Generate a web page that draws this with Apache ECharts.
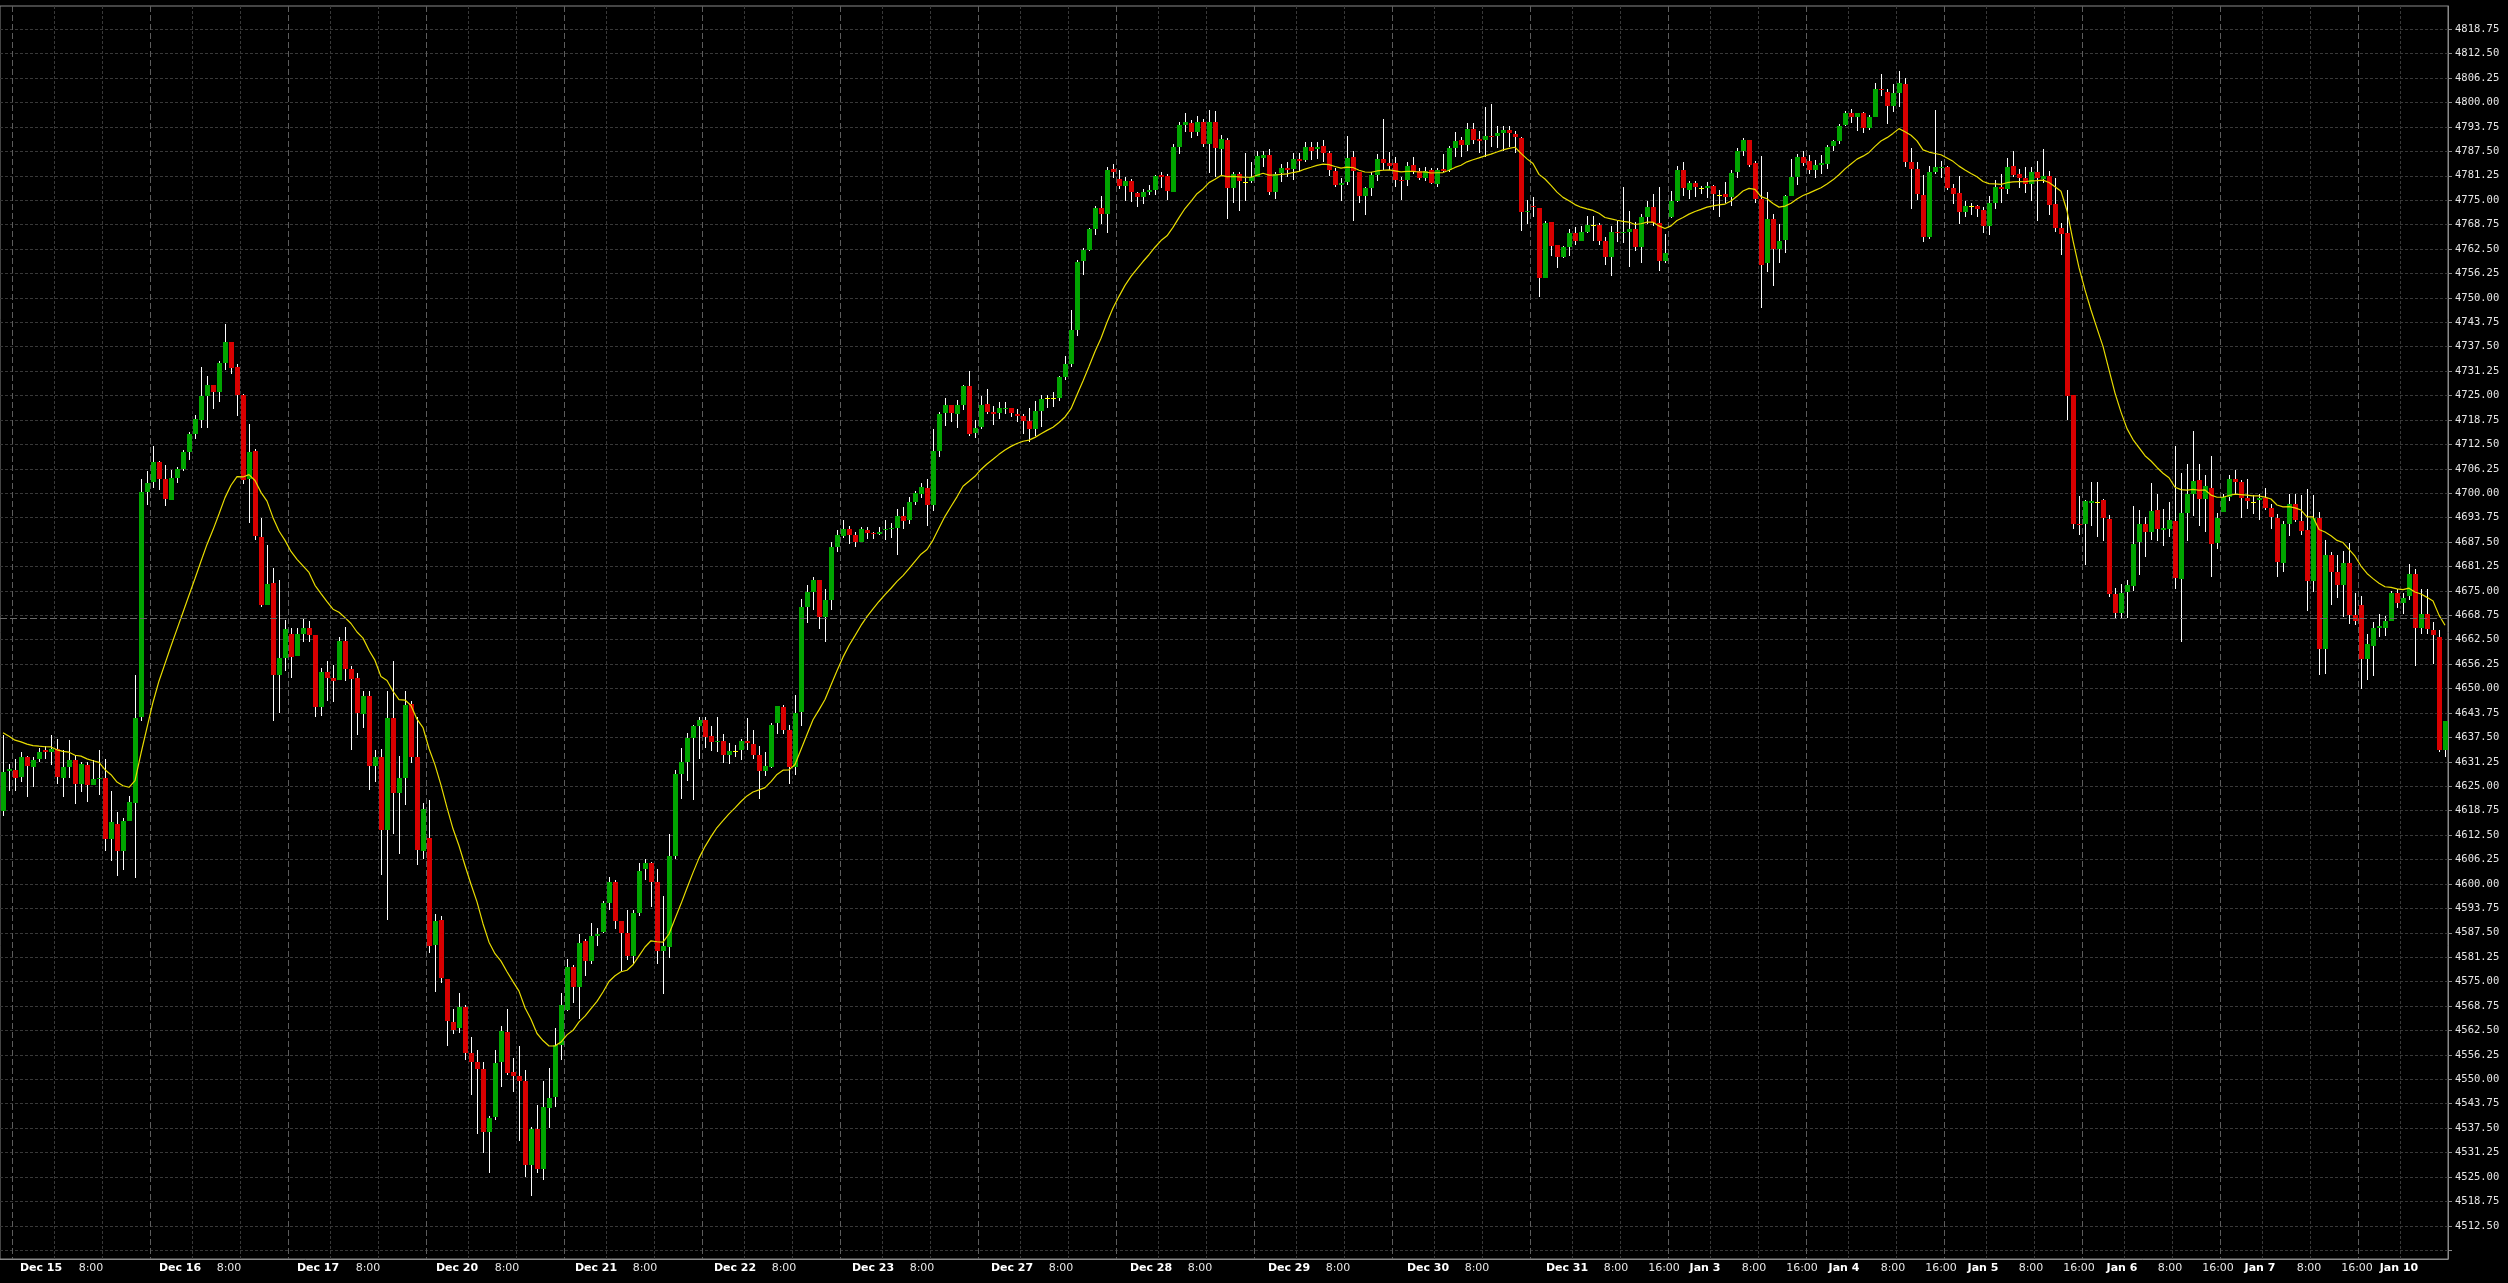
<!DOCTYPE html>
<html><head><meta charset="utf-8">
<script src="https://cdn.jsdelivr.net/npm/echarts@6/dist/echarts.min.js"></script>
<style>html,body{margin:0;padding:0;background:#000;}#chart{width:2508px;height:1283px;}</style>
</head><body><div id="chart"></div>
<script>
// ---- categories (trading days, hourly bars) ----
const days = ['Dec 14','Dec 15','Dec 16','Dec 17','Dec 20','Dec 21','Dec 22','Dec 23','Dec 27','Dec 28','Dec 29','Dec 30','Dec 31','Jan 3','Jan 4','Jan 5','Jan 6','Jan 7','Jan 10'];
const sessionFirstHour = 1, sessionLastHour = 23;
const firstDayFromHour = 22, lastDayToHour = 15;

// ---- OHLC values ----
const open = [
4618.6,4628.9,4629.1,4627.3,4632.4,4630.0,4632.1,4634.2,4633.8,4634.6,
4627.1,4630.0,4631.8,4625.5,4630.5,4625.3,4626.8,4627.0,4611.4,4615.4,
4608.3,4616.1,4620.6,4642.6,4700.2,4702.8,4708.0,4703.7,4698.3,4703.9,
4706.2,4710.5,4715.1,4718.8,4724.8,4727.7,4726.0,4733.3,4738.6,4732.3,
4725.2,4703.6,4710.7,4688.8,4671.3,4676.9,4653.5,4657.9,4663.9,4658.3,
4663.9,4665.6,4663.7,4645.2,4654.2,4652.6,4652.1,4662.3,4655.1,4652.6,
4643.6,4648.0,4630.2,4632.6,4613.7,4642.4,4623.3,4627.1,4646.0,4632.6,
4608.5,4611.7,4584.4,4590.8,4575.7,4564.7,4563.0,4568.5,4556.8,4554.5,
4552.6,4536.6,4540.3,4554.5,4562.0,4551.9,4550.8,4549.5,4528.0,4537.2,
4527.1,4542.6,4545.5,4558.7,4567.8,4578.7,4573.7,4585.3,4580.3,4586.7,
4587.6,4595.0,4600.5,4590.5,4587.4,4581.5,4592.6,4603.7,4605.4,4600.5,
4582.9,4583.8,4607.1,4628.1,4631.2,4637.4,4640.4,4641.9,4637.9,4636.2,
4636.7,4632.9,4634.1,4634.3,4636.5,4635.9,4633.0,4629.0,4630.0,4641.2,
4645.4,4639.4,4630.0,4643.9,4670.8,4674.8,4677.8,4668.4,4672.7,4686.2,
4689.0,4690.9,4689.4,4687.5,4690.7,4689.9,4689.5,4690.5,4690.8,4691.1,
4694.2,4693.2,4697.8,4699.7,4701.3,4697.0,4710.9,4720.6,4722.7,4720.4,
4722.7,4727.4,4715.5,4717.0,4722.9,4720.9,4720.6,4721.6,4721.9,4720.3,
4719.7,4718.6,4716.4,4721.0,4724.3,4724.3,4724.3,4729.8,4733.0,4741.8,
4759.5,4762.2,4767.5,4773.0,4771.5,4782.9,4780.3,4778.6,4779.9,4776.8,
4775.9,4777.1,4777.5,4781.4,4781.2,4777.2,4788.6,4794.3,4794.7,4792.4,
4795.1,4789.4,4795.1,4788.0,4790.3,4778.0,4781.8,4779.7,4780.0,4780.9,
4785.9,4786.6,4777.0,4781.9,4783.2,4783.1,4785.5,4785.3,4788.7,4788.0,
4788.8,4787.1,4782.5,4779.0,4779.6,4786.0,4782.1,4776.1,4778.0,4781.5,
4785.6,4784.6,4784.6,4780.2,4780.2,4784.1,4782.4,4780.7,4782.8,4779.1,
4782.9,4782.7,4788.3,4790.5,4789.0,4793.2,4790.7,4790.5,4791.5,4791.3,
4792.1,4793.0,4791.9,4790.9,4771.9,4773.6,4773.0,4755.1,4769.4,4763.6,
4760.5,4763.1,4766.5,4764.6,4766.9,4768.6,4768.7,4764.6,4760.4,4766.9,
4766.5,4766.8,4767.7,4762.9,4770.8,4773.2,4769.2,4759.5,4770.8,4774.9,
4782.8,4777.7,4779.5,4778.0,4778.2,4778.7,4776.4,4776.6,4775.9,4782.2,
4787.5,4790.5,4784.4,4775.4,4758.8,4770.2,4762.4,4764.7,4776.1,4780.9,
4786.0,4785.0,4782.8,4783.9,4784.2,4788.9,4790.1,4794.3,4797.2,4796.2,
4797.4,4793.4,4796.4,4803.5,4802.7,4799.2,4802.4,4804.8,4784.9,4782.9,
4776.3,4765.7,4782.2,4783.2,4783.4,4778.2,4776.8,4772.1,4773.4,4773.5,
4772.5,4768.5,4774.3,4778.4,4777.9,4783.7,4781.7,4780.8,4779.2,4782.3,
4780.4,4781.1,4774.0,4767.8,4766.7,4725.2,4692.2,4692.0,4697.5,4697.7,
4698.2,4693.5,4674.3,4669.3,4674.7,4676.2,4687.5,4692.0,4690.2,4695.6,
4690.7,4690.8,4692.9,4678.0,4695.0,4699.7,4703.3,4698.4,4701.4,4687.3,
4695.2,4699.0,4703.7,4702.9,4698.9,4697.75,4698.2,4698.9,4696.2,4693.7,
4682.1,4692.0,4697.3,4692.9,4690.5,4677.5,4693.7,4660.2,4684.1,4679.8,
4676.6,4682.2,4668.9,4671.3,4657.6,4661.0,4665.4,4665.6,4667.4,4674.5,
4671.9,4673.6,4679.2,4665.6,4669.2,4665.0,4663.3,4634.4
];
const high = [
4638.2,4630.7,4632.1,4633.8,4632.8,4632.4,4634.8,4635.4,4638.2,4637.2,
4634.2,4636.9,4633.0,4631.3,4631.3,4631.8,4634.4,4632.0,4623.7,4618.4,
4616.9,4622.5,4653.4,4703.6,4705.8,4712.0,4708.3,4707.3,4706.0,4706.6,
4711.0,4715.7,4720.0,4732.3,4730.1,4727.7,4733.9,4743.4,4738.8,4733.0,
4725.4,4717.8,4711.4,4693.6,4686.7,4680.8,4677.7,4667.5,4665.4,4665.4,
4668.0,4667.3,4663.7,4655.3,4657.0,4656.1,4663.1,4665.8,4655.8,4653.9,
4649.5,4649.5,4634.2,4634.5,4649.3,4657.1,4632.8,4649.3,4646.7,4642.6,
4620.8,4621.5,4592.3,4591.7,4575.7,4567.9,4572.1,4568.9,4560.9,4557.6,
4554.5,4540.6,4557.6,4563.7,4568.0,4555.5,4558.5,4552.4,4537.7,4543.5,
4549.5,4552.8,4563.2,4572.2,4580.8,4579.2,4587.2,4586.0,4589.9,4588.8,
4595.6,4601.8,4601.1,4590.5,4593.3,4593.3,4605.4,4606.4,4605.7,4603.8,
4596.9,4612.8,4629.1,4634.8,4638.7,4640.7,4642.6,4642.6,4640.3,4642.6,
4638.4,4636.0,4635.5,4637.1,4642.5,4639.5,4635.4,4633.8,4641.2,4645.6,
4645.9,4640.7,4648.4,4672.8,4676.5,4678.5,4677.8,4675.4,4687.6,4690.6,
4693.2,4691.5,4690.0,4691.3,4691.3,4690.2,4691.3,4693.2,4692.3,4695.9,
4696.4,4699.1,4700.6,4702.7,4703.6,4716.4,4720.9,4724.3,4722.7,4723.8,
4727.8,4731.3,4718.7,4725.0,4726.7,4722.4,4723.3,4723.3,4721.9,4721.5,
4720.4,4721.8,4723.5,4725.2,4725.2,4725.8,4730.1,4735.1,4746.9,4759.7,
4762.7,4768.0,4773.4,4776.0,4783.5,4784.3,4782.6,4780.9,4780.4,4777.2,
4777.8,4778.9,4781.4,4782.3,4781.8,4789.4,4795.1,4797.4,4795.5,4796.6,
4795.7,4798.1,4797.8,4791.7,4790.9,4782.3,4782.3,4787.1,4784.8,4787.5,
4787.7,4788.1,4782.1,4784.3,4784.7,4787.1,4787.2,4790.0,4790.0,4789.8,
4790.4,4787.7,4783.2,4780.7,4791.5,4787.7,4782.1,4778.4,4782.1,4786.7,
4795.8,4787.4,4786.0,4781.0,4784.8,4786.1,4783.2,4783.6,4783.2,4783.2,
4786.8,4788.9,4792.5,4791.2,4794.7,4794.7,4792.8,4798.9,4799.6,4794.1,
4794.1,4793.9,4792.6,4791.1,4775.1,4775.9,4773.0,4769.6,4769.4,4763.6,
4763.4,4767.6,4768.2,4768.5,4771.0,4771.0,4769.1,4765.5,4768.5,4769.6,
4778.4,4772.3,4769.3,4771.4,4774.9,4776.6,4778.3,4766.3,4777.4,4783.8,
4784.9,4779.9,4779.9,4778.7,4779.6,4779.0,4777.5,4779.6,4782.8,4788.4,
4791.0,4790.5,4785.1,4786.3,4777.1,4771.4,4768.9,4776.3,4785.5,4786.9,
4787.7,4786.6,4785.3,4786.6,4789.1,4790.5,4794.5,4797.9,4798.3,4797.4,
4797.6,4796.7,4804.9,4807.4,4803.5,4804.7,4808.0,4806.2,4788.4,4784.9,
4781.5,4783.7,4798.1,4785.1,4783.7,4779.2,4781.1,4774.9,4774.4,4773.7,
4773.2,4776.0,4780.1,4781.7,4785.8,4787.7,4783.0,4783.4,4783.4,4785.1,
4788.2,4782.5,4780.8,4769.2,4777.5,4725.2,4699.2,4698.2,4702.9,4702.9,
4698.6,4694.3,4675.8,4676.7,4677.9,4696.6,4695.6,4693.9,4702.6,4699.7,
4696.0,4697.8,4712.1,4705.2,4707.4,4715.9,4707.4,4704.6,4709.4,4695.0,
4699.9,4704.6,4705.9,4703.3,4703.7,4699.5,4699.9,4701.4,4697.3,4694.8,
4692.9,4699.9,4699.9,4699.5,4701.2,4699.5,4695.2,4688.1,4684.9,4684.1,
4685.1,4687.3,4674.4,4673.8,4664.0,4667.0,4669.0,4668.7,4675.0,4675.6,
4674.5,4681.8,4680.7,4675.6,4675.6,4667.0,4664.9,4641.8
];
const low = [
4617.3,4623.7,4623.7,4626.1,4622.2,4624.9,4631.3,4632.1,4630.5,4625.5,
4622.3,4627.1,4620.5,4623.5,4620.9,4625.3,4622.7,4608.3,4605.9,4602.1,
4603.6,4616.1,4601.6,4641.6,4697.0,4701.4,4700.7,4696.8,4698.3,4702.7,
4705.8,4708.5,4713.9,4716.8,4716.6,4721.5,4723.3,4731.6,4730.4,4719.8,
4702.4,4692.3,4687.9,4671.0,4671.3,4641.8,4643.8,4654.6,4652.6,4658.3,
4661.9,4661.9,4642.8,4642.9,4646.7,4646.5,4652.1,4651.9,4634.3,4638.1,
4639.9,4624.0,4626.1,4602.2,4590.8,4612.7,4607.6,4620.1,4630.9,4604.9,
4606.4,4582.2,4572.4,4574.6,4558.6,4561.7,4561.8,4555.0,4545.9,4536.1,
4531.1,4526.1,4539.6,4548.0,4551.2,4546.7,4534.2,4524.9,4520.0,4526.1,
4524.2,4537.5,4542.9,4554.9,4567.5,4569.6,4565.4,4576.5,4579.6,4584.0,
4587.4,4593.4,4588.4,4577.7,4580.6,4579.6,4591.7,4600.9,4594.2,4579.6,
4571.9,4581.0,4606.4,4621.8,4626.4,4621.5,4632.1,4634.8,4634.1,4633.8,
4631.0,4630.7,4632.6,4631.6,4634.3,4632.1,4621.8,4627.5,4629.7,4638.3,
4638.4,4625.6,4627.9,4640.3,4666.9,4670.1,4665.2,4661.8,4670.1,4685.0,
4688.6,4687.1,4686.3,4687.5,4688.3,4688.3,4689.2,4688.1,4688.6,4684.3,
4690.9,4692.1,4696.9,4698.9,4691.7,4695.5,4709.2,4717.2,4718.3,4716.6,
4721.4,4714.7,4714.2,4716.4,4720.3,4717.4,4718.9,4720.3,4719.5,4718.3,
4715.1,4713.2,4714.7,4717.0,4721.8,4722.0,4723.5,4729.0,4732.4,4740.3,
4755.8,4762.0,4766.1,4768.8,4766.7,4780.6,4777.8,4774.9,4774.6,4773.2,
4774.1,4776.4,4776.4,4778.0,4775.1,4777.0,4786.9,4792.4,4790.9,4791.5,
4788.6,4782.0,4780.9,4781.2,4770.3,4774.3,4772.3,4774.9,4779.5,4780.9,
4783.4,4776.3,4775.3,4779.6,4781.0,4780.2,4782.5,4784.9,4785.3,4785.5,
4784.7,4781.3,4778.5,4774.7,4779.0,4769.6,4774.4,4771.3,4776.0,4779.8,
4782.7,4782.8,4778.3,4775.1,4778.7,4781.7,4780.2,4780.0,4779.1,4778.3,
4782.1,4782.1,4786.0,4786.0,4787.5,4789.4,4787.2,4786.1,4788.5,4788.3,
4787.5,4788.7,4787.0,4767.0,4768.9,4770.8,4750.1,4755.1,4760.8,4757.7,
4760.2,4760.8,4763.6,4764.6,4766.5,4764.6,4763.6,4758.5,4755.7,4764.2,
4764.0,4757.8,4761.9,4758.8,4768.9,4768.3,4757.0,4758.8,4770.4,4774.5,
4776.1,4775.2,4775.7,4776.5,4775.6,4772.4,4770.8,4774.4,4773.5,4780.6,
4786.3,4783.4,4774.4,4747.4,4756.7,4753.1,4758.8,4761.6,4776.1,4779.0,
4783.7,4781.7,4780.6,4781.8,4783.1,4787.7,4789.4,4793.9,4794.8,4792.6,
4792.2,4792.9,4796.2,4801.7,4794.6,4797.6,4798.9,4783.4,4772.7,4775.1,
4764.2,4765.0,4781.7,4780.6,4777.5,4774.0,4769.0,4770.8,4771.1,4770.8,
4766.7,4766.2,4772.7,4774.4,4776.5,4780.9,4778.0,4776.8,4774.7,4769.7,
4779.5,4771.1,4766.9,4760.9,4718.8,4690.8,4689.2,4681.6,4691.6,4688.7,
4687.8,4673.4,4667.7,4667.7,4668.1,4674.9,4679.0,4683.7,4688.1,4687.8,
4686.5,4688.8,4675.4,4661.9,4687.8,4694.1,4691.5,4690.1,4678.5,4685.8,
4695.2,4698.0,4699.9,4693.7,4696.0,4694.8,4693.2,4695.6,4690.9,4678.5,
4679.8,4689.0,4692.6,4689.4,4669.8,4674.7,4653.4,4653.8,4671.5,4673.2,
4668.3,4666.4,4666.3,4649.9,4652.1,4653.1,4663.2,4663.4,4667.3,4670.6,
4669.2,4672.6,4655.9,4663.9,4663.9,4656.2,4633.7,4632.6
];
const close = [
4628.7,4629.3,4627.1,4632.4,4630.2,4631.8,4633.8,4633.8,4634.6,4627.3,
4630.0,4631.8,4625.5,4630.7,4625.3,4626.9,4627.1,4611.4,4615.8,4608.3,
4616.1,4621.0,4642.4,4700.2,4702.6,4708.0,4703.7,4698.5,4703.9,4706.2,
4710.5,4715.1,4718.9,4724.8,4727.7,4726.0,4733.3,4738.6,4732.1,4725.2,
4703.4,4710.5,4689.0,4671.3,4676.7,4653.5,4657.9,4665.2,4658.1,4663.9,
4665.6,4663.7,4645.2,4654.2,4652.6,4651.9,4662.1,4655.1,4652.4,4643.8,
4648.0,4630.2,4632.6,4613.7,4642.4,4623.3,4627.1,4645.8,4632.6,4608.8,
4619.3,4584.1,4590.5,4576.0,4564.9,4562.6,4568.5,4556.8,4554.3,4552.7,
4536.6,4540.2,4554.1,4562.3,4551.7,4550.9,4549.5,4528.0,4537.2,4527.1,
4542.8,4545.3,4558.8,4568.9,4578.7,4573.7,4585.0,4580.3,4586.6,4587.2,
4595.2,4600.5,4590.5,4587.4,4581.5,4592.6,4603.3,4605.4,4600.5,4582.9,
4584.0,4607.1,4628.1,4631.2,4637.4,4640.3,4641.9,4637.6,4636.2,4636.7,
4633.1,4634.1,4634.1,4636.7,4636.1,4633.1,4629.0,4630.2,4640.7,4645.6,
4639.5,4630.0,4643.7,4670.8,4674.8,4677.8,4668.4,4672.7,4686.2,4689.3,
4690.9,4689.4,4687.5,4690.9,4689.9,4689.5,4690.0,4690.8,4691.1,4694.2,
4693.0,4697.8,4700.1,4701.7,4697.0,4710.9,4720.3,4722.7,4720.6,4722.5,
4727.4,4715.1,4716.6,4722.7,4720.7,4720.3,4721.8,4721.9,4720.6,4719.8,
4718.6,4716.4,4721.0,4724.0,4724.3,4724.3,4729.8,4733.0,4741.8,4759.2,
4762.2,4767.5,4773.0,4771.5,4782.7,4782.3,4778.6,4779.9,4777.2,4775.9,
4777.1,4777.5,4781.2,4780.9,4777.4,4788.6,4794.3,4794.9,4792.4,4795.1,
4789.4,4794.9,4788.4,4790.7,4778.0,4781.8,4780.0,4779.7,4780.9,4786.3,
4786.6,4777.0,4781.7,4783.2,4782.7,4785.5,4785.1,4788.7,4787.7,4788.7,
4787.2,4782.8,4779.0,4779.5,4785.8,4782.4,4776.0,4778.0,4781.5,4785.6,
4784.4,4783.7,4780.2,4779.8,4783.7,4782.1,4780.7,4782.5,4779.3,4782.7,
4782.5,4788.3,4790.2,4789.2,4793.2,4790.5,4790.2,4791.4,4791.1,4792.3,
4793.0,4792.1,4791.1,4772.1,4772.3,4773.2,4755.1,4769.2,4763.4,4760.4,
4763.1,4766.5,4764.6,4766.9,4768.7,4768.6,4764.6,4760.4,4766.9,4766.5,
4766.9,4767.7,4762.9,4770.8,4773.2,4769.2,4759.4,4761.4,4774.9,4782.8,
4778.0,4779.5,4778.4,4778.0,4778.7,4776.5,4776.4,4775.9,4782.0,4787.5,
4790.5,4784.1,4775.4,4758.5,4770.2,4762.4,4764.5,4776.0,4780.9,4786.0,
4784.4,4782.8,4784.1,4784.4,4788.6,4790.1,4794.0,4797.2,4796.2,4797.4,
4793.4,4796.4,4803.5,4803.1,4799.2,4802.4,4805.0,4784.9,4783.1,4776.6,
4765.7,4782.2,4783.4,4783.5,4778.2,4776.6,4772.1,4773.5,4773.4,4772.8,
4768.3,4774.2,4778.4,4777.9,4783.5,4781.5,4780.8,4779.2,4782.3,4780.6,
4781.1,4773.7,4768.0,4766.4,4725.0,4692.2,4691.9,4697.9,4697.9,4697.7,
4693.7,4674.3,4669.3,4674.5,4676.4,4687.1,4692.0,4690.1,4695.4,4690.8,
4691.1,4693.1,4678.3,4695.0,4699.7,4703.0,4698.4,4701.8,4686.9,4693.7,
4699.0,4703.7,4702.9,4698.8,4698.0,4697.75,4698.9,4696.3,4693.9,4682.4,
4692.0,4697.3,4693.1,4690.3,4677.5,4693.7,4660.2,4684.1,4679.8,4676.6,
4682.2,4668.9,4667.4,4657.5,4661.3,4665.6,4665.9,4667.4,4674.5,4671.9,
4673.3,4679.2,4665.5,4669.2,4665.3,4663.6,4634.4,4641.6
];

// moving average: value shown at the first bar (read), period of the EMA
const maStart = 4638.7;
const maPeriod = 20;
// highlighted horizontal reference line
const refLine = 4668.05;

// y-axis ticks and labels
const yTickValues = [4506.25,4512.5,4518.75,4525,4531.25,4537.5,4543.75,4550,4556.25,4562.5,4568.75,4575,4581.25,4587.5,4593.75,4600,4606.25,4612.5,4618.75,4625,4631.25,4637.5,4643.75,4650,4656.25,4662.5,4668.75,4675,4681.25,4687.5,4693.75,4700,4706.25,4712.5,4718.75,4725,4731.25,4737.5,4743.75,4750,4756.25,4762.5,4768.75,4775,4781.25,4787.5,4793.75,4800,4806.25,4812.5,4818.75];
const yLabelValues = [4512.5,4518.75,4525,4531.25,4537.5,4543.75,4550,4556.25,4562.5,4568.75,4575,4581.25,4587.5,4593.75,4600,4606.25,4612.5,4618.75,4625,4631.25,4637.5,4643.75,4650,4656.25,4662.5,4668.75,4675,4681.25,4687.5,4693.75,4700,4706.25,4712.5,4718.75,4725,4731.25,4737.5,4743.75,4750,4756.25,4762.5,4768.75,4775,4781.25,4787.5,4793.75,4800,4806.25,4812.5,4818.75];

// ---- build ----
const categories = [], catDay = [], catHour = [];
days.forEach((d, i) => {
  const h0 = i === 0 ? firstDayFromHour : sessionFirstHour;
  const h1 = i === days.length - 1 ? lastDayToHour : sessionLastHour;
  for (let h = h0; h <= h1; h++) { categories.push(d + ' ' + h + ':00'); catDay.push(i); catHour.push(h); }
});
const N = categories.length;
const BAR = 6; // px per bar (2448 / 408)

const ema = [];
const alpha = 2 / (maPeriod + 1);
close.forEach((c, k) => { ema.push(k === 0 ? maStart : ema[k - 1] + alpha * (c - ema[k - 1])); });

const labelMap = {};
function placeLabel(startIdx, target, text, kind) {
  const m = Math.floor((target - BAR / 2) / BAR);
  const r = Math.round(target - (BAR * m + BAR / 2));
  const idx = startIdx + m;
  if (idx < N - 4) labelMap[idx] = '{' + kind + r + '|' + text + '}';
}
for (let i = 1; i < days.length; i++) {
  const k0 = catDay.indexOf(i);
  placeLabel(k0, 29 + 0.7 * (i - 1), days[i], 'd');
  placeLabel(k0 + 7, 36.7 + 0.62 * (i - 1), '8:00', 'h');
  if (i + 1 < days.length && days[i + 1].startsWith('Jan')) placeLabel(k0 + 15, 36.7 + 0.62 * (i - 1), '16:00', 'h');
}
const rich = {};
for (let r = 0; r <= 6; r++) {
  rich['d' + r] = {fontFamily: 'DejaVu Sans', fontWeight: 'bold', fontSize: 11, color: '#ffffff', padding: [0, 0, 0, 2 * r]};
  rich['h' + r] = {fontFamily: 'DejaVu Sans', fontSize: 11, color: '#e6e6e6', padding: [0, 0, 0, 2 * r]};
}

const chart = echarts.init(document.getElementById('chart'), null, {renderer: 'canvas'});
chart.setOption({
  animation: false,
  backgroundColor: '#000000',
  grid: {left: 0, right: 60, top: 6, bottom: 24, show: true, borderColor: '#8a8a8a', borderWidth: 1},
  xAxis: [
    {
      type: 'category', data: categories, boundaryGap: true, position: 'bottom',
      axisLine: {show: true, lineStyle: {color: '#8a8a8a', width: 1}},
      axisTick: {show: false},
      axisLabel: {interval: (i) => labelMap[i] !== undefined, formatter: (v, i) => labelMap[i] || '', rich: rich, margin: 4, hideOverlap: false},
      splitLine: {show: true, interval: (i) => catHour[i] === sessionFirstHour && i > 0, lineStyle: {color: '#5c5c5c', type: [6, 3], width: 1}}
    },
    {
      type: 'category', data: categories, boundaryGap: true, position: 'bottom',
      axisLine: {show: false}, axisTick: {show: false}, axisLabel: {show: false},
      splitLine: {show: true, interval: (i) => catHour[i] === 8 || catHour[i] === 16, lineStyle: {color: '#383838', type: [3, 2], width: 1}}
    }
  ],
  yAxis: {
    type: 'value', position: 'right', min: 4504.0, max: 4824.7,
    axisLine: {show: true, lineStyle: {color: '#8a8a8a'}},
    axisTick: {show: true, inside: false, length: 4, customValues: yTickValues, lineStyle: {color: '#8a8a8a'}},
    axisLabel: {customValues: yLabelValues, formatter: (v) => v.toFixed(2), color: '#e6e6e6', fontFamily: 'DejaVu Sans Mono', fontSize: 10.5, margin: 7},
    splitLine: {show: true, lineStyle: {color: '#383838', type: [3, 2], width: 1}}
  },
  series: [
    {
      type: 'line', data: [], z: 1, silent: true,
      markLine: {silent: true, symbol: ['none', 'none'], label: {show: false}, animation: false,
        lineStyle: {color: '#6a6a6a', type: [7, 3], width: 1}, data: [{yAxis: refLine}]}
    },
    {
      type: 'custom', z: 2, silent: true,
      data: open.map((o, k) => [k, o, close[k], low[k], high[k]]),
      encode: {x: 0, y: [1, 2, 3, 4]},
      renderItem: function (params, api) {
        const k = api.value(0), o = api.value(1), c = api.value(2), l = api.value(3), h = api.value(4);
        const pO = api.coord([k, o]), pC = api.coord([k, c]), pH = api.coord([k, h]), pL = api.coord([k, l]);
        const left = Math.round(pO[0] - BAR / 2) + 1;
        const wx = left + 2.5;
        const top = Math.round(Math.min(pO[1], pC[1])), bot = Math.round(Math.max(pO[1], pC[1]));
        const color = c > o ? '#00a400' : (c < o ? '#d80000' : '#ffff00');
        return {type: 'group', children: [
          {type: 'line', shape: {x1: wx, y1: Math.round(pH[1]), x2: wx, y2: Math.round(pL[1])}, style: {stroke: '#ffffff', lineWidth: 1}},
          {type: 'rect', shape: {x: left, y: top, width: BAR - 1, height: Math.max(1, bot - top)}, style: {fill: color}}
        ]};
      }
    },
    {
      type: 'line', data: ema, z: 3, symbol: 'none', silent: true,
      lineStyle: {color: '#e8dc00', width: 1.2}
    }
  ]
});
</script></body></html>
